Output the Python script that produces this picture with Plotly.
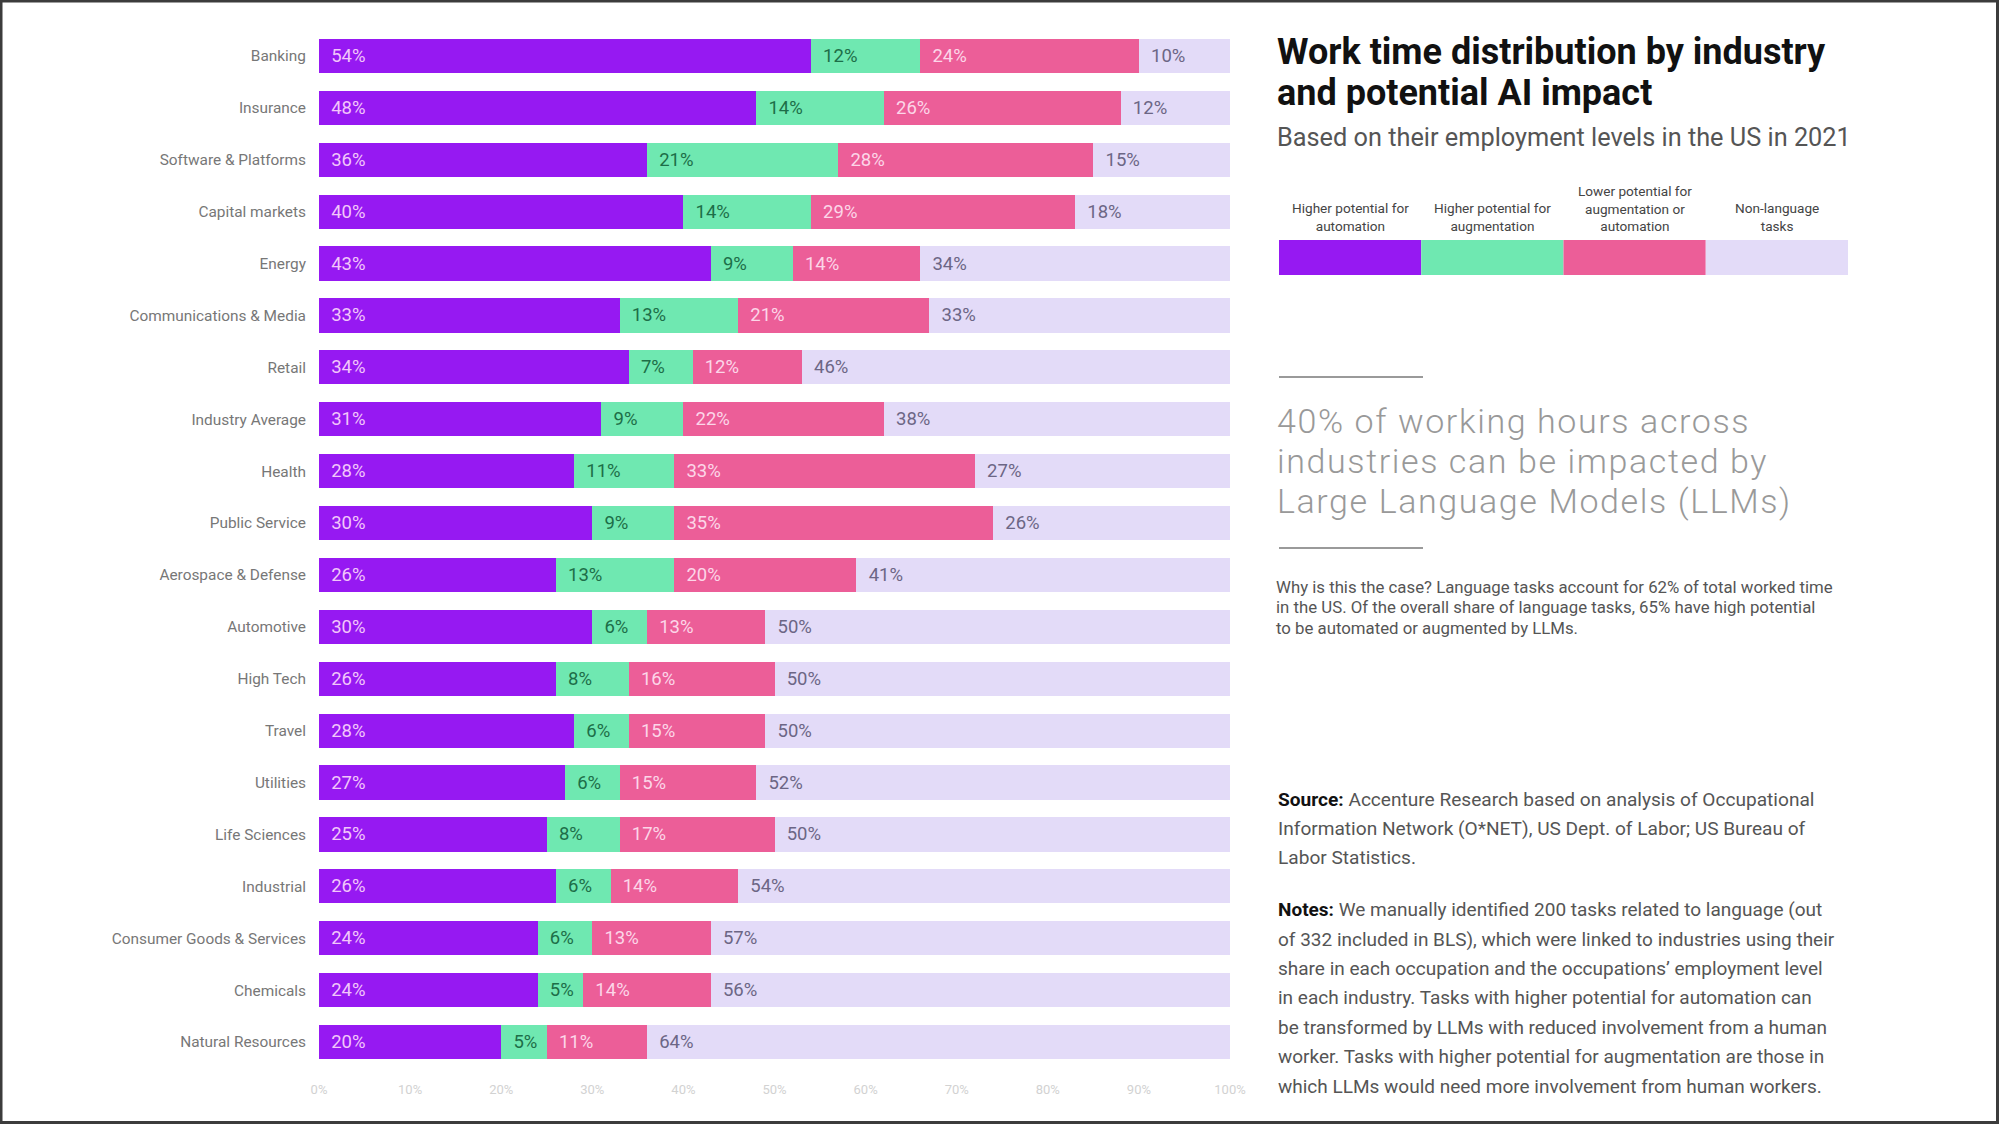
import plotly.graph_objects as go

# ---------------- data ----------------
industries = [
    "Banking", "Insurance", "Software & Platforms", "Capital markets", "Energy",
    "Communications & Media", "Retail", "Industry Average", "Health", "Public Service",
    "Aerospace & Defense", "Automotive", "High Tech", "Travel", "Utilities",
    "Life Sciences", "Industrial", "Consumer Goods & Services", "Chemicals", "Natural Resources",
]
automation = [54, 48, 36, 40, 43, 33, 34, 31, 28, 30, 26, 30, 26, 28, 27, 25, 26, 24, 24, 20]
augmentation = [12, 14, 21, 14, 9, 13, 7, 9, 11, 9, 13, 6, 8, 6, 6, 8, 6, 6, 5, 5]
lower_potential = [24, 26, 28, 29, 14, 21, 12, 22, 33, 35, 20, 13, 16, 15, 15, 17, 14, 13, 14, 11]
non_language = [10, 12, 15, 18, 34, 33, 46, 38, 27, 26, 41, 50, 50, 50, 52, 50, 54, 57, 56, 64]

series_names = [
    "Higher potential for automation",
    "Higher potential for augmentation",
    "Lower potential for augmentation or automation",
    "Non-language tasks",
]
legend_labels = [
    "Higher potential for<br>automation",
    "Higher potential for<br>augmentation",
    "Lower potential for<br>augmentation or<br>automation",
    "Non-language<br>tasks",
]
x_tick_values = [0, 10, 20, 30, 40, 50, 60, 70, 80, 90, 100]
x_tick_labels = ["0%", "10%", "20%", "30%", "40%", "50%", "60%", "70%", "80%", "90%", "100%"]

title_lines = ["Work time distribution by industry", "and potential AI impact"]
subtitle = "Based on their employment levels in the US in 2021"
headline_lines = [
    "40% of working hours across",
    "industries can be impacted by",
    "Large Language Models (LLMs)",
]
why_lines = [
    "Why is this the case? Language tasks account for 62% of total worked time",
    "in the US. Of the overall share of language tasks, 65% have high potential",
    "to be automated or augmented by LLMs.",
]
source_lines = [
    "<span style='color:#111'><b>Source:</b></span> Accenture Research based on analysis of Occupational",
    "Information Network (O*NET), US Dept. of Labor; US Bureau of",
    "Labor Statistics.",
]
notes_lines = [
    "<span style='color:#111'><b>Notes:</b></span> We manually identified 200 tasks related to language (out",
    "of 332 included in BLS), which were linked to industries using their",
    "share in each occupation and the occupations\u2019 employment level",
    "in each industry. Tasks with higher potential for automation can",
    "be transformed by LLMs with reduced involvement from a human",
    "worker. Tasks with higher potential for augmentation are those in",
    "which LLMs would need more involvement from human workers.",
]

# ---------------- style ----------------
FONT = "Roboto, 'Noto Sans', sans-serif"
bar_colors = ["#9619f2", "#6fe8b1", "#ec5e98", "#e3dbf8"]
label_colors = ["#f2c6fa", "#1d6e48", "#fcd6e8", "#6c6685"]

W, H = 2000, 1125
PX0, PX1 = 319, 1230      # plot area in pixels (x)
PY0, PY1 = 30, 1068       # plot area in pixels (y, top/bottom)


def px(x):
    return (x - PX0) / (PX1 - PX0)


def py(y):
    return (PY1 - y) / (PY1 - PY0)


# the non-language segment fills the rest of each 100% bar (labels keep the read values)
non_language_len = [100 - a - b - c for a, b, c in zip(automation, augmentation, lower_potential)]

fig = go.Figure()
series_lengths = [automation, augmentation, lower_potential, non_language_len]
series_labels = [automation, augmentation, lower_potential, non_language]
for name, lens, labs, col, tcol in zip(series_names, series_lengths, series_labels, bar_colors, label_colors):
    fig.add_trace(go.Bar(
        y=industries,
        x=lens,
        orientation="h",
        name=name,
        marker=dict(color=col, line=dict(width=0)),
        text=["\u00a0\u00a0%d%%" % v for v in labs],
        textposition="inside",
        insidetextanchor="start",
        constraintext="none",
        textfont=dict(family=FONT, size=18.5, color=tcol),
        customdata=labs,
        hovertemplate="%{y}: %{customdata}%<extra>" + name + "</extra>",
        showlegend=False,
    ))

annotations = []


def ann(text, x, y, size, color, weight=400, xanchor="left", yanchor="middle", align="left"):
    annotations.append(dict(
        text=text, x=px(x), y=py(y), xref="paper", yref="paper",
        xanchor=xanchor, yanchor=yanchor, align=align, showarrow=False,
        borderpad=0,
        font=dict(family=FONT, size=size, color=color, weight=weight),
    ))


# title and subtitle
for line, yc in zip(title_lines, [52, 93]):
    ann(line, 1276, yc, 36, "#111111", weight=700)
ann(subtitle, 1276, 138, 25.3, "#555555")

# legend
LX0, LX1, LY0, LY1 = 1279, 1848, 240, 275
bw = (LX1 - LX0) / len(bar_colors)
shapes = []
for i, (col, lab) in enumerate(zip(bar_colors, legend_labels)):
    shapes.append(dict(type="rect", xref="paper", yref="paper",
                       x0=px(LX0 + i * bw), x1=px(LX0 + (i + 1) * bw),
                       y0=py(LY1), y1=py(LY0), fillcolor=col, line=dict(width=0), layer="above"))
    ann(lab, LX0 + (i + 0.5) * bw, 235, 13.6, "#444444", xanchor="center", yanchor="bottom", align="center")

# rules
for yy in [377, 548]:
    shapes.append(dict(type="line", xref="paper", yref="paper",
                       x0=px(1279), x1=px(1423), y0=py(yy), y1=py(yy),
                       line=dict(color="#9a9a9a", width=2)))

# headline (light, slightly tracked to match the wide display face)
for line, yc in zip(headline_lines, [421, 461, 501]):
    ann("<span style='letter-spacing:1.6px'>" + line + "</span>", 1276, yc, 34, "#999999", weight=300)

# why paragraph
for line, yc in zip(why_lines, [587, 607, 628]):
    ann(line, 1275, yc, 16.8, "#555555")

# source
for line, yc in zip(source_lines, [799, 828, 857]):
    ann(line, 1277, yc, 19.1, "#555555")

# notes
for line, yc in zip(notes_lines, [909, 939, 968, 997, 1027, 1056, 1086]):
    ann(line, 1277, yc, 19, "#555555")

# outer frame
shapes.append(dict(type="rect", xref="paper", yref="paper",
                   x0=px(1), x1=px(1997.5), y0=py(1), y1=py(1122.5),
                   line=dict(color="#3c3c3c", width=3), fillcolor="rgba(0,0,0,0)"))

fig.update_layout(
    width=W, height=H,
    barmode="stack", bargap=0.34,
    margin=dict(l=PX0, r=W - PX1, t=PY0, b=H - PY1, pad=0),
    paper_bgcolor="white", plot_bgcolor="white",
    showlegend=False,
    uniformtext=dict(minsize=18.5, mode="show"),
    font=dict(family=FONT),
    annotations=annotations,
    shapes=shapes,
    xaxis=dict(range=[0, 100], tickvals=x_tick_values, ticktext=x_tick_labels,
               showgrid=False, zeroline=False, showline=False,
               tickfont=dict(family=FONT, size=13, color="#d2d2d2"),
               ticklabelstandoff=12, fixedrange=True),
    yaxis=dict(categoryorder="array", categoryarray=industries, autorange="reversed",
               showgrid=False, zeroline=False, showline=False,
               tickfont=dict(family=FONT, size=15.4, color="#777777"),
               ticklabelstandoff=12, fixedrange=True),
)

fig.write_html(
    "out.html",
    config={"displayModeBar": False},
    post_script="document.body.style.margin='0';document.body.style.overflow='hidden';",
)
